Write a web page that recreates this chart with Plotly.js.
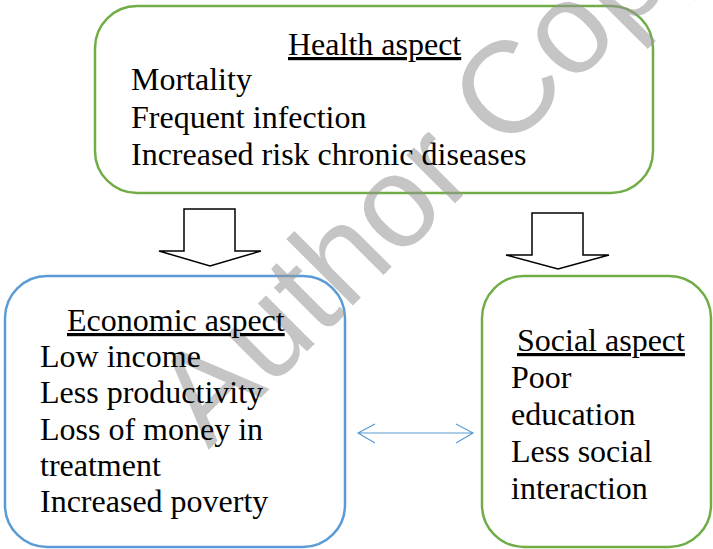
<!DOCTYPE html>
<html>
<head>
<meta charset="utf-8">
<script src="https://cdn.plot.ly/plotly-3.0.1.min.js"></script>
<style>html,body{margin:0;padding:0;background:#fff;}#chart{width:713px;height:549px;}</style>
</head>
<body>
<div id="chart"></div>
<script>
// ---- content ----
const healthTitle = "Health aspect";
const healthItems = ["Mortality", "Frequent infection", "Increased risk chronic diseases"];
const economicTitle = "Economic aspect";
const economicItems = ["Low income", "Less productivity", "Loss of money in", "treatment", "Increased poverty"];
const socialTitle = "Social aspect";
const socialItems = ["Poor", "education", "Less social", "interaction"];
const watermarkText = "Author Copy";

// ---- styling / layout helpers ----
const GREEN = "#70AD47";
const BLUE = "#5B9BD5";
const SERIF = "Liberation Serif";
const FS = 32;

function roundRect(x0, y0, x1, y1, r) {
  const k = 0.5523 * r;
  return `M${x0 + r},${y0} L${x1 - r},${y0} C${x1 - r + k},${y0} ${x1},${y0 + r - k} ${x1},${y0 + r} ` +
         `L${x1},${y1 - r} C${x1},${y1 - r + k} ${x1 - r + k},${y1} ${x1 - r},${y1} ` +
         `L${x0 + r},${y1} C${x0 + r - k},${y1} ${x0},${y1 - r + k} ${x0},${y1 - r} ` +
         `L${x0},${y0 + r} C${x0},${y0 + r - k} ${x0 + r - k},${y0} ${x0 + r},${y0} Z`;
}
function blockArrow(sl, sr, top, sh, hl, hr, tx, ty) {
  return `M${sl},${top} L${sr},${top} L${sr},${sh} L${hr},${sh} L${tx},${ty} L${hl},${sh} L${sl},${sh} Z`;
}

const shapes = [
  {type: "path", path: roundRect(95, 6, 653, 193, 42), line: {color: GREEN, width: 2.5}, fillcolor: "rgba(0,0,0,0)"},
  {type: "path", path: roundRect(5, 276, 345, 547, 42), line: {color: BLUE, width: 2.5}, fillcolor: "rgba(0,0,0,0)"},
  {type: "path", path: roundRect(482, 276, 711, 547, 42), line: {color: GREEN, width: 2.5}, fillcolor: "rgba(0,0,0,0)"},
  {type: "path", path: blockArrow(184, 235, 209, 251, 159, 261, 210, 266), line: {color: "#000", width: 1.5}, fillcolor: "rgba(0,0,0,0)"},
  {type: "path", path: blockArrow(532, 583, 213, 255, 506, 609, 558, 269), line: {color: "#000", width: 1.5}, fillcolor: "rgba(0,0,0,0)"},
  {type: "path", path: "M358,433 L473,433 M375,424 L358,433 L375,443 M456,424 L473,433 L456,443", line: {color: BLUE, width: 1.2}}
];

const annotations = [];
annotations.push({
  x: 432, y: 163, xref: "x", yref: "y", text: watermarkText, showarrow: false, textangle: -45,
  font: {family: "Liberation Sans", size: 130, color: "rgba(150,150,150,0.55)"}
});
function addText(str, x, y, anchor) {
  annotations.push({x: x, y: y, xref: "x", yref: "y", text: str, showarrow: false,
    xanchor: anchor, yanchor: "middle", font: {family: SERIF, size: FS, color: "#000"}});
}
addText("<u>" + healthTitle + "</u>", 374.5, 44, "center");
healthItems.forEach((t, i) => addText(t, 129, 79 + i * 37.5, "left"));
addText("<u>" + economicTitle + "</u>", 175.5, 320, "center");
economicItems.forEach((t, i) => addText(t, 38, 356 + i * 36.3, "left"));
addText("<u>" + socialTitle + "</u>", 600.5, 340, "center");
socialItems.forEach((t, i) => addText(t, 509, 377 + i * 37, "left"));

const layout = {
  width: 713, height: 549,
  margin: {l: 0, r: 0, t: 0, b: 0},
  paper_bgcolor: "#fff", plot_bgcolor: "#fff",
  showlegend: false,
  xaxis: {range: [0, 713], visible: false, fixedrange: true},
  yaxis: {range: [549, 0], visible: false, fixedrange: true},
  shapes: shapes,
  annotations: annotations
};
Plotly.newPlot("chart", [{x: [], y: [], type: "scatter", hoverinfo: "skip"}], layout, {displayModeBar: false, staticPlot: true});
</script>
</body>
</html>
